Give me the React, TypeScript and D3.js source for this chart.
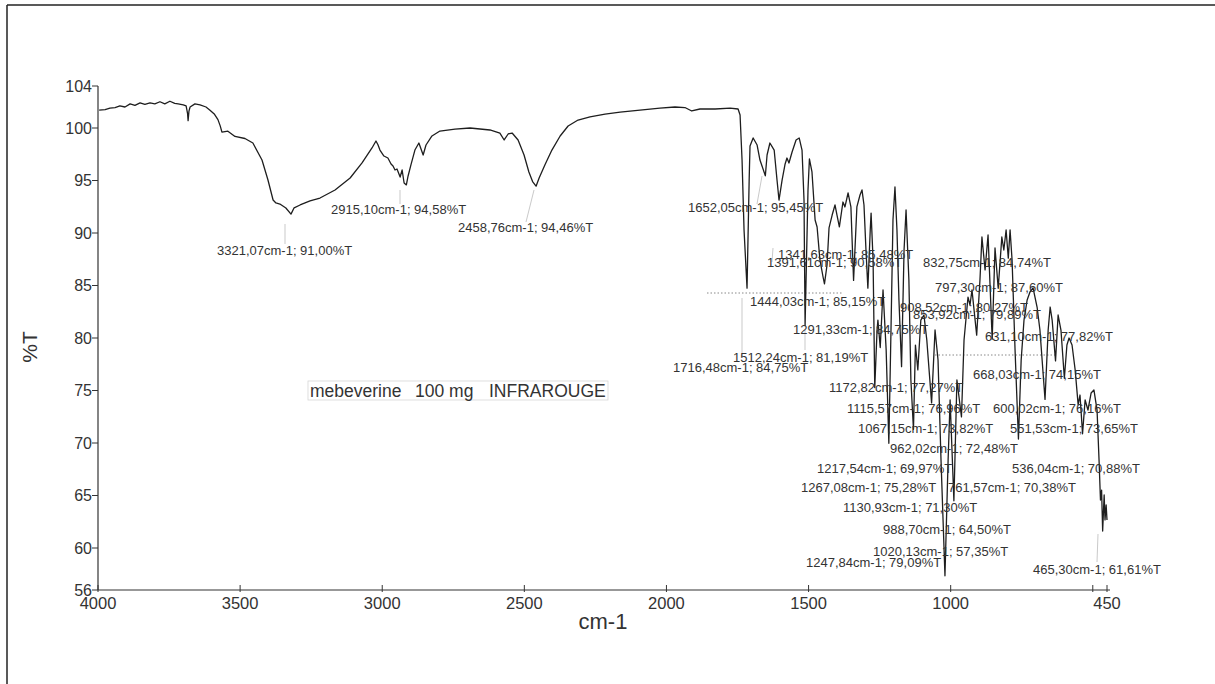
import React from "react";
import * as d3 from "d3";

// ---------- DATA ----------
const spectrumWavenumber = [
  3996, 3975, 3958, 3940, 3923, 3905, 3887, 3870, 3852, 3835, 3817, 3800, 3782, 3765, 3747, 3730,
  3718, 3700, 3690, 3685, 3683, 3680, 3676, 3659, 3641, 3620, 3606, 3590, 3578, 3570, 3564, 3543,
  3518, 3483, 3455, 3423, 3402, 3384, 3374, 3360, 3339, 3321, 3310, 3289, 3254, 3219, 3166, 3113,
  3071, 3036, 3022, 3015, 3008, 2994, 2980, 2969, 2962, 2955, 2948, 2937, 2930, 2923, 2915.1, 2909,
  2899, 2885, 2871, 2856, 2846, 2825, 2797, 2744, 2691, 2621, 2586, 2571, 2557, 2543, 2522, 2501,
  2484, 2471, 2458.76, 2448, 2427, 2403, 2374, 2346, 2311, 2269, 2216, 2163, 2093, 2023, 1970, 1935,
  1911, 1882, 1829, 1776, 1748, 1741, 1734, 1727, 1716.48, 1709, 1706, 1695, 1681, 1671, 1652.05, 1646,
  1636, 1621, 1611, 1604, 1593, 1583, 1576, 1569, 1558, 1544, 1533, 1523, 1516, 1512.24, 1502, 1497,
  1488, 1477, 1470, 1460, 1449, 1444.03, 1435, 1428, 1417, 1407, 1400, 1391.61, 1379, 1372, 1361, 1351,
  1341.63, 1330, 1319, 1312, 1305, 1298, 1291.33, 1283, 1280, 1273, 1267.08, 1259, 1256, 1247.84, 1238, 1227,
  1217.54, 1210, 1203, 1196, 1189, 1182, 1172.82, 1164, 1157, 1147, 1140, 1130.93, 1124, 1115.57, 1105, 1094,
  1084, 1067.15, 1055, 1044.5, 1034, 1020.13, 1009, 1002, 988.7, 978, 962.02, 953, 939, 932, 925, 908.52,
  897, 890, 879, 868.5, 853.92, 844, 832.75, 820, 813, 805, 797.3, 791, 784, 773.5, 761.57, 752,
  742, 731, 721, 710, 696, 686, 668.03, 657, 650, 643, 631.1, 622, 612, 600.02, 591, 583.5,
  573, 562, 551.53, 545, 536.04, 527, 517, 506, 496, 485, 478, 473, 469, 465.3, 460, 457,
  453, 450,
];
const spectrumTransmittance = [
  101.7, 101.75, 101.9, 101.95, 102.1, 102.0, 102.3, 102.15, 102.4, 102.25, 102.4, 102.3, 102.5, 102.3, 102.55, 102.35,
  102.3, 102.2, 102.1, 101.4, 100.7, 101.6, 102.0, 102.3, 102.2, 102.0, 101.7, 101.3, 100.8, 100.2, 99.6, 99.7,
  99.2, 99.0, 98.57, 96.95, 95.05, 93.14, 92.86, 92.76, 92.38, 91.8, 92.4, 92.67, 93.05, 93.33, 94.1, 95.24,
  96.67, 98.1, 98.76, 98.4, 97.9, 97.33, 97.14, 96.57, 96.38, 96.0, 96.1, 95.33, 96.0, 94.76, 94.58, 95.43,
  96.48, 97.9, 98.57, 97.43, 98.38, 99.24, 99.71, 99.9, 100.0, 99.81, 99.52, 98.86, 99.43, 99.52, 98.86, 97.43,
  95.81, 94.9, 94.46, 95.24, 96.52, 97.9, 99.24, 100.19, 100.76, 101.05, 101.33, 101.52, 101.71, 101.9, 102.0, 101.95,
  101.62, 101.81, 101.81, 101.9, 101.81, 101.24, 96.95, 90.29, 84.75, 95.05, 98.29, 99.05, 98.38, 96.95, 95.45, 97.43,
  98.57, 97.9, 95.05, 93.14, 95.05, 96.52, 97.14, 96.67, 97.71, 98.86, 99.05, 97.9, 93.14, 81.19, 94.1, 97.05,
  95.81, 91.24, 90.57, 87.43, 85.81, 85.15, 86.95, 90.48, 91.71, 92.67, 91.71, 90.58, 92.95, 92.48, 93.81, 92.48,
  85.48, 92.48, 93.62, 94.1, 92.67, 88.38, 84.75, 90.29, 91.9, 87.43, 75.28, 80.76, 81.71, 79.09, 84.57, 78.86,
  69.97, 80.76, 91.24, 94.38, 90.29, 83.62, 77.27, 88.38, 92.19, 85.52, 76.0, 71.3, 79.33, 76.96, 81.71, 82.19,
  79.81, 73.82, 80.76, 77.9, 68.38, 57.35, 68.38, 74.1, 64.5, 76.0, 72.48, 79.81, 83.9, 83.14, 84.57, 80.27,
  85.52, 89.62, 86.48, 89.81, 79.89, 88.57, 84.74, 89.62, 88.38, 90.29, 87.6, 90.29, 87.43, 78.86, 70.38, 77.9,
  81.71, 83.62, 84.38, 84.76, 82.95, 80.76, 74.15, 80.76, 82.95, 81.71, 77.82, 82.19, 80.76, 76.16, 79.33, 80.0,
  79.33, 76.95, 73.65, 74.57, 70.88, 74.1, 73.14, 74.76, 75.05, 73.14, 68.38, 64.57, 65.52, 61.61, 65.05, 62.67,
  64.1, 62.67,
];

const peakLabels = [
  "3321,07cm-1; 91,00%T", "2915,10cm-1; 94,58%T", "2458,76cm-1; 94,46%T", "1652,05cm-1; 95,45%T",
  "1341,63cm-1; 85,48%T", "1391,61cm-1; 90,58%T", "832,75cm-1; 84,74%T", "797,30cm-1; 87,60%T",
  "1444,03cm-1; 85,15%T", "908,52cm-1; 80,27%T", "853,92cm-1; 79,89%T", "1291,33cm-1; 84,75%T",
  "631,10cm-1; 77,82%T", "1512,24cm-1; 81,19%T", "1716,48cm-1; 84,75%T", "668,03cm-1; 74,15%T",
  "1172,82cm-1; 77,27%T", "1115,57cm-1; 76,96%T", "600,02cm-1; 76,16%T", "1067,15cm-1; 73,82%T",
  "551,53cm-1; 73,65%T", "962,02cm-1; 72,48%T", "1217,54cm-1; 69,97%T", "536,04cm-1; 70,88%T",
  "1267,08cm-1; 75,28%T", "761,57cm-1; 70,38%T", "1130,93cm-1; 71,30%T", "988,70cm-1; 64,50%T",
  "1020,13cm-1; 57,35%T", "1247,84cm-1; 79,09%T", "465,30cm-1; 61,61%T",
];

const yTickValues = [104, 100, 95, 90, 85, 80, 75, 70, 65, 60, 56];
const xTickValues = [4000, 3500, 3000, 2500, 2000, 1500, 1000, 500, 450];
const xTickLabels = ["4000", "3500", "3000", "2500", "2000", "1500", "1000", "", "450"];
const sampleTitle = ["mebeverine", "100 mg", "INFRAROUGE"];
const xAxisTitle = "cm-1";
const yAxisTitle = "%T";

// ---------- LAYOUT (pixels) ----------
const peakLabelPos: [number, number][] = [
  [217, 255], [331, 214], [458, 232], [688, 212],
  [778, 259], [767, 267], [923, 267], [935, 292],
  [750, 306], [900, 312], [913, 319], [793, 334],
  [985, 341], [733, 362], [673, 372], [973, 379],
  [829, 392], [847, 413], [993, 413], [858, 433],
  [1010, 433], [890, 453], [817, 473], [1012, 473],
  [801, 492], [948, 492], [843, 512], [883, 534],
  [873, 556], [806, 567], [1033, 574],
];
const leaderLines: [number, number, number, number][] = [
  [285, 224, 285, 244], [400, 190, 400, 204], [534, 190, 526, 222], [762, 176, 757, 204],
  [742, 298, 742, 356], [1098, 534, 1097, 562], [773, 248, 772, 262], [805, 330, 805, 350],
];
const titleX = [310, 415, 489];

const W = 1215, H = 684;
const plot = { left: 98, right: 1107, top: 86, bottom: 590 };

export default function App() {
  const x = d3.scaleLinear().domain([4000, 450]).range([plot.left, plot.right]);
  const y = d3.scaleLinear().domain([56, 104]).range([plot.bottom, plot.top]);
  const pts: [number, number][] = spectrumWavenumber.map((w, i) => [w, spectrumTransmittance[i]]);
  const line = d3.line<[number, number]>().x((d) => x(d[0])).y((d) => y(d[1]));
  const font = "'Liberation Sans', Arial, sans-serif";
  const txt = "#333";

  return (
    <svg width={W} height={H} style={{ position: "absolute", left: 0, top: 0, background: "#fff" }} fontFamily={font}>
      <rect x={0} y={0} width={W} height={H} fill="#fff" />
      {/* scan frame */}
      <line x1={7} y1={5} x2={W} y2={5} stroke="#222" strokeWidth={1.5} />
      <line x1={7} y1={5} x2={7} y2={H} stroke="#222" strokeWidth={1.5} />

      {/* axes */}
      <line x1={plot.left} y1={y(104)} x2={plot.left} y2={y(56)} stroke="#333" strokeWidth={1.2} />
      <line x1={plot.left} y1={plot.bottom} x2={x(450) + 3} y2={plot.bottom} stroke="#333" strokeWidth={1.2} />
      {yTickValues.map((v) => (
        <g key={"y" + v}>
          <line x1={plot.left - 6} x2={plot.left} y1={y(v)} y2={y(v)} stroke="#333" strokeWidth={1} />
          <text x={plot.left - 6} y={y(v) + 5.5} textAnchor="end" fontSize={16} fill={txt}>{v}</text>
        </g>
      ))}
      {xTickValues.map((v, i) => (
        <g key={"x" + v}>
          <line x1={x(v)} x2={x(v)} y1={plot.bottom - 5} y2={plot.bottom + 2} stroke="#333" strokeWidth={1} />
          <text x={x(v)} y={plot.bottom + 19} textAnchor="middle" fontSize={16.5} fill={txt}>{xTickLabels[i]}</text>
        </g>
      ))}
      <text x={603} y={629} textAnchor="middle" fontSize={22} fill={txt}>{xAxisTitle}</text>
      <text transform="translate(37,347) rotate(-90)" textAnchor="middle" fontSize={21} fill={txt}>{yAxisTitle}</text>

      {/* sample title box */}
      <rect x={308} y={381} width={300} height={19} fill="none" stroke="#d6d6d6" strokeWidth={0.8} />
      {sampleTitle.map((s, i) => (
        <text key={s} x={titleX[i]} y={397} fontSize={17.5} fill={txt}>{s}</text>
      ))}

      {/* dotted threshold marks */}
      <line x1={707} y1={293} x2={843} y2={293} stroke="#888" strokeWidth={1} strokeDasharray="1.5 2" />
      <line x1={935} y1={355} x2={1057} y2={355} stroke="#888" strokeWidth={1} strokeDasharray="1.5 2" />

      {/* leader lines */}
      {leaderLines.map((l, i) => (
        <line key={"l" + i} x1={l[0]} y1={l[1]} x2={l[2]} y2={l[3]} stroke="#bbb" strokeWidth={0.8} />
      ))}

      {/* spectrum */}
      <path d={line(pts) || ""} fill="none" stroke="#1e1e1e" strokeWidth={1.3} strokeLinejoin="round" />

      {/* peak labels */}
      {peakLabels.map((s, i) => (
        <text key={s} x={peakLabelPos[i][0]} y={peakLabelPos[i][1]} fontSize={13} fill={txt}>{s}</text>
      ))}
    </svg>
  );
}
